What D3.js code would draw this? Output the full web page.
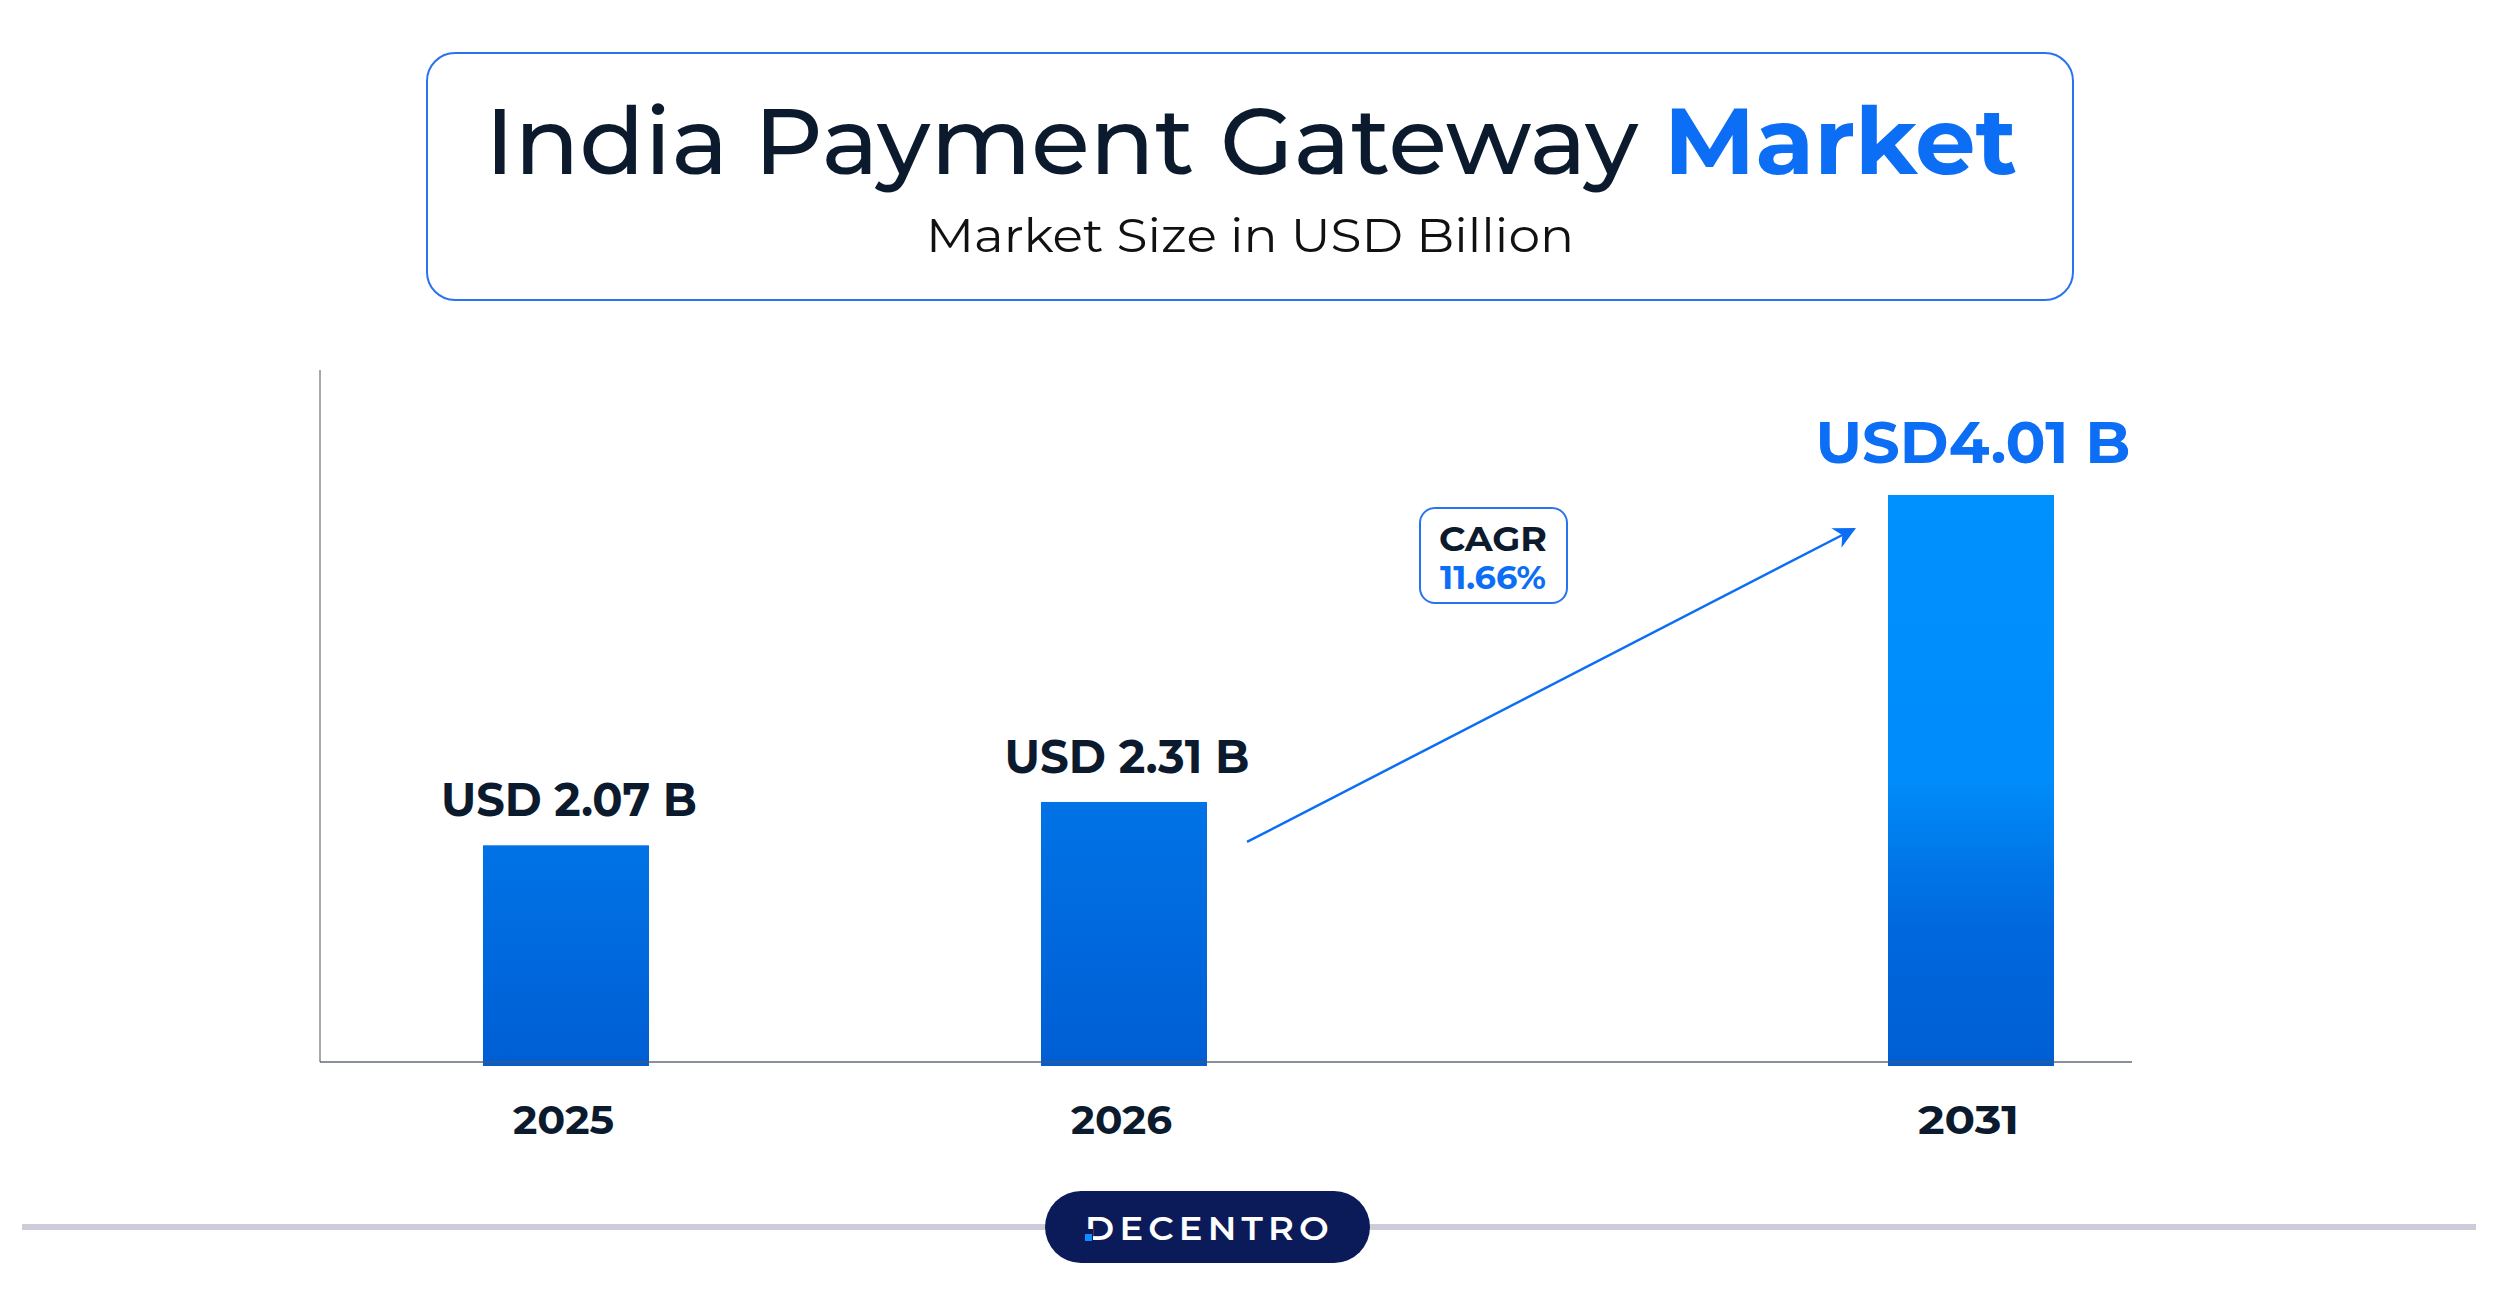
<!DOCTYPE html>
<html>
<head>
<meta charset="utf-8">
<script src="https://cdn.jsdelivr.net/npm/d3@7"></script>
<style>
  html, body { margin: 0; padding: 0; background: #fff; }
  svg { display: block; font-family: Montserrat, Inter, "Noto Sans", sans-serif; }
</style>
</head>
<body>
<svg width="2500" height="1308"></svg>
<script>
// chart data
const years = [2025, 2026, 2031]
const values = [2.07, 2.31, 4.01]
const valueLabels = ['USD 2.07 B', 'USD 2.31 B', 'USD4.01 B']
const cagrLines = ['CAGR', '11.66%']
const titleParts = ['India Payment Gateway ', 'Market']
const subtitle = 'Market Size in USD Billion'

const svg = d3.select('svg')
const dark = '#0c1a2e'
const blue = '#0b6ef5'

// squeeze / stretch text to the width it has in the original
function fit(sel, w) {
    sel.attr('textLength', w).attr('lengthAdjust', 'spacingAndGlyphs')
}

// ---- title box
svg.append('rect')
    .attr('x', 427).attr('y', 53).attr('width', 1646).attr('height', 247)
    .attr('rx', 28)
    .style('fill', '#fff').style('stroke', '#2a73f0').style('stroke-width', 2)

const title = svg.append('text')
    .attr('x', 1251).attr('y', 174)
    .attr('text-anchor', 'middle')
    .style('font-size', '93px')
title.append('tspan').text(titleParts[0]).style('fill', dark).style('font-weight', 500)
title.append('tspan').text(titleParts[1]).style('fill', blue).style('font-weight', 700)
fit(title, 1532)

const sub = svg.append('text')
    .attr('x', 1250).attr('y', 252)
    .attr('text-anchor', 'middle')
    .style('font-size', '47px').style('fill', '#111').style('font-weight', 400)
    .text(subtitle)
fit(sub, 648)

// ---- scales
const xScale = d3.scaleLinear()
    .domain(years)
    .range([566, 1124, 1971])

const yScale = d3.scaleLinear()
    .domain([0.87, 4.01])
    .range([1062, 495])

const barW = 166
const base = yScale.range()[0]
const maxVal = d3.max(values)

const defs = svg.append('defs')
// short bars: plain top->bottom fade; tall bar keeps the light blue longer
const gradStops = {
    short: [[0, '#0073e6'], [1, '#005ed4']],
    tall: [[0, '#0091ff'], [0.5, '#008cfa'], [0.65, '#0076e8'], [0.76, '#0068dd'], [1, '#005ed4']]
}
Object.keys(gradStops).forEach(k => {
    const g = defs.append('linearGradient')
        .attr('id', 'grad-' + k)
        .attr('x1', 0).attr('x2', 0).attr('y1', 0).attr('y2', 1)
    gradStops[k].forEach(s => g.append('stop').attr('offset', s[0]).attr('stop-color', s[1]))
})

defs.append('marker')
    .attr('id', 'arrow')
    .attr('viewBox', '0 0 10 10')
    .attr('refX', 9).attr('refY', 5)
    .attr('markerUnits', 'userSpaceOnUse')
    .attr('markerWidth', 22).attr('markerHeight', 22)
    .attr('orient', 'auto')
    .append('path')
    .attr('d', 'M0,0 L10,5 L0,10 L3,5 Z')
    .style('fill', blue)

// ---- y axis line
svg.append('line')
    .attr('x1', 320).attr('x2', 320).attr('y1', 370).attr('y2', base)
    .style('stroke', '#555').style('stroke-width', 1)

// bars
svg.selectAll('rect.bar')
    .data(values)
    .enter()
    .append('rect')
    .attr('class', 'bar')
    .attr('x', (d, i) => xScale(years[i]) - barW / 2)
    .attr('y', d => yScale(d))
    .attr('width', barW)
    .attr('height', d => base - yScale(d) + 4)
    .style('fill', d => d == maxVal ? 'url(#grad-tall)' : 'url(#grad-short)')

// x axis line
svg.append('line')
    .attr('x1', 320).attr('x2', 2132).attr('y1', base).attr('y2', base)
    .style('stroke', '#4a5566').style('stroke-width', 2).style('opacity', 0.65)

// value labels
svg.selectAll('text.val')
    .data(values)
    .enter()
    .append('text')
    .attr('class', 'val')
    .attr('x', (d, i) => xScale(years[i]) + (i == 2 ? 2 : 3))
    .attr('y', (d, i) => yScale(d) - (i == 2 ? 32 : 29))
    .attr('text-anchor', 'middle')
    .style('font-weight', 700)
    .style('font-size', (d, i) => i == 2 ? '58px' : '47px')
    .style('fill', (d, i) => i == 2 ? blue : dark)
    .text((d, i) => valueLabels[i])
    .each(function (d, i) { fit(d3.select(this), [256, 245, 315][i]) })

// year labels through the axis generator
const xAxis = d3.axisBottom(xScale)
    .tickValues(years)
    .tickFormat(d3.format('d'))
    .tickSize(0)
const ax = svg.append('g')
    .attr('transform', `translate(-3,${base})`)
    .call(xAxis)
ax.select('.domain').remove()
ax.selectAll('text')
    .attr('dy', null)
    .attr('y', 72)
    .style('font-family', 'Montserrat, Inter, sans-serif')
    .style('font-size', '40px')
    .style('font-weight', 700)
    .style('fill', dark)
    .each(function () { fit(d3.select(this), 101) })

// ---- CAGR arrow + box
const x0 = xScale(2026) + barW / 2 + 40
const y0 = yScale(2.31) + 40
const x1 = xScale(2031) - barW / 2 - 34
const y1 = yScale(4.01) + 34
svg.append('line')
    .attr('x1', x0).attr('y1', y0).attr('x2', x1).attr('y2', y1)
    .style('stroke', blue).style('stroke-width', 2.5)
    .attr('marker-end', 'url(#arrow)')

svg.append('rect')
    .attr('x', 1420).attr('y', 508).attr('width', 147).attr('height', 95).attr('rx', 15)
    .style('fill', '#fff').style('stroke', '#2a73f0').style('stroke-width', 2)
svg.append('text')
    .attr('x', 1493).attr('y', 551).attr('text-anchor', 'middle')
    .style('font-size', '34px').style('font-weight', 700).style('fill', dark)
    .text(cagrLines[0])
    .call(fit, 108)
svg.append('text')
    .attr('x', 1493).attr('y', 589).attr('text-anchor', 'middle')
    .style('font-size', '32px').style('font-weight', 700).style('fill', blue)
    .text(cagrLines[1])
    .call(fit, 106)

// ---- footer
svg.append('line')
    .attr('x1', 22).attr('x2', 2476).attr('y1', 1227).attr('y2', 1227)
    .style('stroke', '#cccdd9').style('stroke-width', 6)
svg.append('rect')
    .attr('x', 1045).attr('y', 1191).attr('width', 325).attr('height', 72).attr('rx', 36)
    .style('fill', '#0b1a58')
svg.append('text')
    .attr('x', 1085).attr('y', 1240)
    .style('font-size', '34px').style('font-weight', 600).style('fill', '#fff')
    .style('letter-spacing', '5px')
    .text('DECENTRO')
    .call(fit, 249)
svg.append('rect')
    .attr('x', 1083).attr('y', 1229).attr('width', 10).attr('height', 13)
    .style('fill', '#0b1a58')
svg.append('rect')
    .attr('x', 1085).attr('y', 1234).attr('width', 7).attr('height', 7)
    .style('fill', '#0f8cff')
</script>
</body>
</html>
